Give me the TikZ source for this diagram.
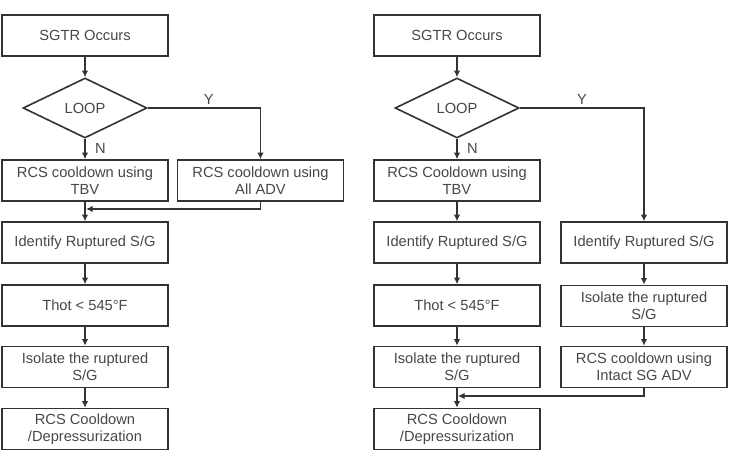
\documentclass[tikz,border=0pt]{standalone}
\usepackage{fontspec}
\setmainfont{Liberation Sans}
\usetikzlibrary{arrows.meta,shapes.geometric}
\tikzset{
	box/.style={draw=black!80, line width=1.2pt, minimum width=124.5pt, minimum height=30.75pt, inner sep=0pt, align=center, text=black!72, font=\fontsize{11}{12.75}\selectfont},
	loop/.style={draw=black!80, line width=1.2pt, shape=diamond, minimum width=93pt, minimum height=45pt, inner sep=0pt, text=black!72, font=\fontsize{11}{12.75}\selectfont},
	arr/.style={draw=black!80, line width=1pt, -{Latex[length=5pt,width=5pt]}},
	lbl/.style={text=black!72, font=\fontsize{11}{12.75}\selectfont, inner sep=1pt}
}

\begin{document}
\begin{tikzpicture}[x=0.75pt, y=-0.75pt]
			%%%%% START %%%%%
			\useasboundingbox (0, 0) rectangle (730, 459);
			
			% left chart
			\node[box] (sgtrL) at (85, 35.5) {SGTR Occurs};
			\node[loop] (loopL) at (85, 108) {LOOP};
			\node[box] (tbvL) at (85, 180.5) {RCS cooldown using\\TBV};
			\node[box] (advL) at (260.5, 180.5) {RCS cooldown using\\All ADV};
			\node[box] (identL) at (85, 242.5) {Identify Ruptured S/G};
			\node[box] (thotL) at (85, 305.5) {Thot < 545\textdegree F};
			\node[box] (isoL) at (85, 367) {Isolate the ruptured\\S/G};
			\node[box] (depL) at (85, 429) {RCS Cooldown\\/Depressurization};
			\coordinate (mergeL) at (86, 209);
			
			\draw[arr] (sgtrL) -- (loopL);
			\draw[arr] (loopL) -- node[lbl, right=6pt, pos=0.45] {N} (tbvL);
			\draw[arr] (loopL.east) -| node[lbl, above=1pt, pos=0.27] {Y} (advL.north);
			\draw[arr] (tbvL) -- (identL);
			\draw[arr] (advL.south) |- (mergeL);
			\draw[arr] (identL) -- (thotL);
			\draw[arr] (thotL) -- (isoL);
			\draw[arr] (isoL) -- (depL);
			
			% right chart
			\node[box] (sgtrR) at (457, 35.5) {SGTR Occurs};
			\node[loop] (loopR) at (457, 108) {LOOP};
			\node[box] (tbvR) at (457, 180.5) {RCS Cooldown using\\TBV};
			\node[box] (identR) at (457, 242.5) {Identify Ruptured S/G};
			\node[box] (thotR) at (457, 305.5) {Thot < 545\textdegree F};
			\node[box] (isoR) at (457, 367) {Isolate the ruptured\\S/G};
			\node[box] (depR) at (457, 429) {RCS Cooldown\\/Depressurization};
			\node[box] (identY) at (644, 242.5) {Identify Ruptured S/G};
			\node[box] (isoY) at (644, 306) {Isolate the ruptured\\S/G};
			\node[box] (advY) at (644, 367) {RCS cooldown using\\Intact SG ADV};
			\coordinate (mergeR) at (458, 396);
			
			\draw[arr] (sgtrR) -- (loopR);
			\draw[arr] (loopR) -- node[lbl, right=6pt, pos=0.45] {N} (tbvR);
			\draw[arr] (loopR.east) -| node[lbl, above=1pt, pos=0.25] {Y} (identY.north);
			\draw[arr] (tbvR) -- (identR);
			\draw[arr] (identR) -- (thotR);
			\draw[arr] (thotR) -- (isoR);
			\draw[arr] (isoR) -- (depR);
			\draw[arr] (identY) -- (isoY);
			\draw[arr] (isoY) -- (advY);
			\draw[arr] (advY.south) |- (mergeR);
			
			%%%%% END %%%%%
		\end{tikzpicture}
\end{document}
